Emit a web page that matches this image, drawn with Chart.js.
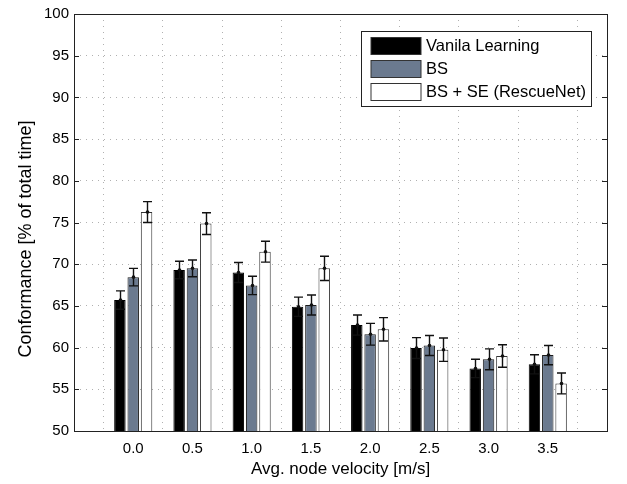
<!DOCTYPE html>
<html>
<head>
<meta charset="utf-8">
<script src="https://cdn.jsdelivr.net/npm/chart.js@4.4.0/dist/chart.umd.min.js"></script>
<style>
    body { margin: 0; background: #fff; }
    #wrap { width: 627px; height: 484px; }
</style>
</head>
<body>
<div id="wrap"><canvas id="myChart" width="627" height="484"></canvas></div>
<script>
// values
const velocities = ['0.0', '0.5', '1.0', '1.5', '2.0', '2.5', '3.0', '3.5'];
const seriesNames = ['Vanila Learning', 'BS', 'BS + SE (RescueNet)'];
const vanila = [65.7, 69.3, 69.0, 64.9, 62.7, 59.95, 57.5, 58.0];
const vanilaErr = [1.1, 1.05, 1.2, 1.15, 1.2, 1.25, 1.1, 1.15];
const bs = [68.45, 69.5, 67.45, 65.1, 61.6, 60.25, 58.6, 59.1];
const bsErr = [1.05, 1.0, 1.1, 1.2, 1.3, 1.2, 1.25, 1.15];
const rescue = [76.25, 74.87, 71.5, 69.5, 62.2, 59.75, 59.0, 55.7];
const rescueErr = [1.25, 1.3, 1.25, 1.45, 1.4, 1.4, 1.35, 1.25];
const yTicks = [50, 55, 60, 65, 70, 75, 80, 85, 90, 95, 100];

const FONT = "'Liberation Sans', Arial, Helvetica, sans-serif";

// empty slot on each side, like the matlab x limits
function pad(arr) {
    return [null].concat(arr).concat([null]);
}

const errors = [vanilaErr, bsErr, rescueErr];

const frame = {
    id: 'frame',
    afterDraw: function(chart) {
        const ctx = chart.ctx;
        const a = chart.chartArea;
        const y = chart.scales.y;
        ctx.save();
        ctx.strokeStyle = '#222';
        ctx.lineWidth = 1;
        ctx.strokeRect(Math.round(a.left) + 0.5, Math.round(a.top) + 0.5,
            Math.round(a.right - a.left), Math.round(a.bottom - a.top));
        // inward ticks on left and right
        ctx.beginPath();
        yTicks.forEach(v => {
            const py = Math.round(y.getPixelForValue(v)) + 0.5;
            ctx.moveTo(a.left, py); ctx.lineTo(a.left + 5, py);
            ctx.moveTo(a.right, py); ctx.lineTo(a.right - 5, py);
        });
        ctx.stroke();

        // y title
        ctx.fillStyle = '#000';
        ctx.font = '18px ' + FONT;
        ctx.textAlign = 'center';
        ctx.textBaseline = 'middle';
        ctx.translate(26, 239);
        ctx.rotate(-Math.PI / 2);
        ctx.fillText('Conformance [% of total time]', 0, 0);
        ctx.restore();

        // legend box
        ctx.save();
        ctx.fillStyle = '#fff';
        ctx.fillRect(361, 31, 230, 75);
        ctx.strokeStyle = '#222';
        ctx.strokeRect(361.5, 31.5, 230, 75);
        ctx.font = '16.5px ' + FONT;
        ctx.textAlign = 'left';
        ctx.textBaseline = 'middle';
        chart.data.datasets.forEach((ds, i) => {
            const top = 37.5 + i * 23;
            ctx.fillStyle = ds.backgroundColor;
            ctx.fillRect(371, top, 50, 17);
            ctx.strokeStyle = '#333';
            ctx.strokeRect(371, top, 50, 17);
            ctx.fillStyle = '#000';
            ctx.fillText(ds.label, 426, top + 9);
        });
        ctx.restore();
    }
};

const errorBars = {
    id: 'errorBars',
    afterDatasetsDraw: function(chart) {
        const ctx = chart.ctx;
        const y = chart.scales.y;
        ctx.save();
        ctx.strokeStyle = '#111';
        ctx.fillStyle = '#111';
        ctx.lineWidth = 1.4;
        chart.data.datasets.forEach((ds, i) => {
            const meta = chart.getDatasetMeta(i);
            meta.data.forEach((bar, j) => {
                const v = ds.data[j];
                if (v === null) return;
                const e = errors[i][j - 1];
                const x = Math.round(bar.x) + 0.5;
                const yt = y.getPixelForValue(v + e);
                const yb = y.getPixelForValue(v - e);
                ctx.beginPath();
                ctx.moveTo(x, yt); ctx.lineTo(x, yb);
                ctx.moveTo(x - 4.5, yt); ctx.lineTo(x + 4.5, yt);
                ctx.moveTo(x - 4.5, yb); ctx.lineTo(x + 4.5, yb);
                ctx.stroke();
                ctx.beginPath();
                ctx.arc(x, y.getPixelForValue(v), 1.8, 0, Math.PI * 2);
                ctx.fill();
            });
        });
        ctx.restore();
    }
};

const ctx = document.getElementById('myChart');
const myChart = new Chart(ctx, {
    type: 'bar',
    data: {
        labels: pad(velocities).map(v => v === null ? '' : v),
        datasets: [{
            label: seriesNames[0],
            data: pad(vanila),
            backgroundColor: '#000000',
            borderColor: '#000000',
            borderWidth: 1
        }, {
            label: seriesNames[1],
            data: pad(bs),
            backgroundColor: '#6b7a8f',
            borderColor: '#1a1a1a',
            borderWidth: 1
        }, {
            label: seriesNames[2],
            data: pad(rescue),
            backgroundColor: '#ffffff',
            borderColor: '#333333',
            borderWidth: 1
        }]
    },
    options: {
        responsive: false,
        animation: false,
        layout: { padding: { top: 10, right: 20, left: 0, bottom: 0 } },
        categoryPercentage: 0.675,
        barPercentage: 0.86,
        plugins: {
            legend: { display: false },
            tooltip: { enabled: false }
        },
        scales: {
            x: {
                offset: false,
                grid: { color: '#b0b0b0', lineWidth: 1, drawTicks: false },
                border: { display: false, dash: [1, 5] },
                ticks: { color: '#000', font: { family: FONT, size: 15 }, padding: 9, maxRotation: 0, autoSkip: false },
                title: { display: true, text: 'Avg. node velocity [m/s]', color: '#000', font: { family: FONT, size: 17 }, padding: { top: 2 } },
                afterFit: function(scale) { scale.height = 53; }
            },
            y: {
                min: 50,
                max: 100,
                grid: { color: '#b0b0b0', lineWidth: 1, drawTicks: false },
                border: { display: false, dash: [1, 5] },
                ticks: { stepSize: 5, color: '#000', font: { family: FONT, size: 15 }, padding: 5 },
                afterFit: function(scale) { scale.width = 74; }
            }
        }
    },
    plugins: [errorBars, frame]
});
</script>
</body>
</html>
